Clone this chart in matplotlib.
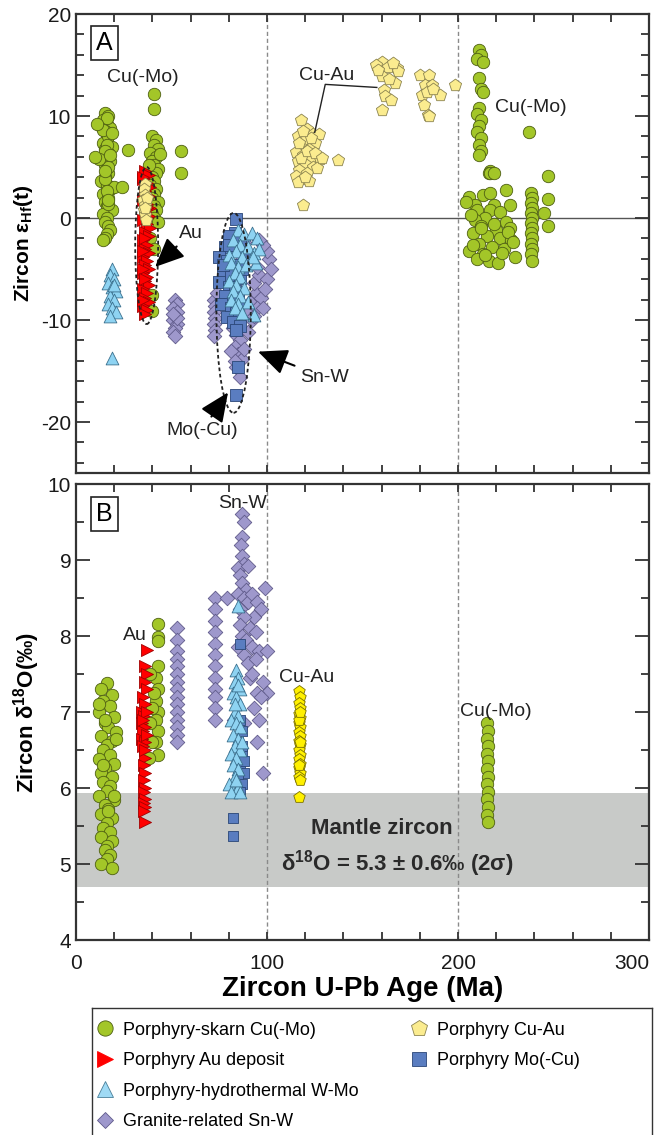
import matplotlib
matplotlib.use('Agg')
import matplotlib.pyplot as plt
from matplotlib.patches import Ellipse
from matplotlib.lines import Line2D
from matplotlib.ticker import MultipleLocator

plt.rcParams['font.family'] = ['Liberation Sans', 'DejaVu Sans']
plt.rcParams['mathtext.fontset'] = 'custom'
plt.rcParams['mathtext.rm'] = 'Liberation Sans'
plt.rcParams['mathtext.bf'] = 'Liberation Sans:bold'
plt.rcParams['mathtext.default'] = 'regular'
plt.rcParams['axes.unicode_minus'] = False

# ---------------- Panel A : zircon eHf(t) vs age ----------------
hf_cumo_age = [15,17,14,16,18,13,15,17,16,14, 19,15,17,16,18,14,15,16,17,15,
               13,16,18,14,17,15,16,19,14,16, 15,17,18,16,15,14,17,16,15,17,
               20,12,16,15,17,18,15,16,14,17, 10,11,19,24,27,
               41,41, 40,42,41,43,39,42,40,41,43,42, 40,41,39,42,41,40,43,41,42,40,
               41,43,39,41,55,55,40,40,44,38,
               211,212,210,213,211,212,213, 211,210,212,211,210,212,211,212,211, 217,216,237,
               206,213,217,225,227,219,209,210,217,222, 214,225,209,207,227,217,219,204,212,220,
               208,215,222,228,211,218,224,206,213,230, 210,216,221,226,212,219,208,214,223,229,
               238,239,238,239,238,239,238,239,238,239,238,239,238,239, 247,247,247,245]
hf_cumo_eps = [10.3,10.0,9.6,9.2,8.8,9.0,8.5,8.2,7.8,7.4, 7.0,6.8,6.4,6.0,5.6,5.8,5.2,4.8,4.4,4.0,
               3.6,3.2,2.8,2.4,2.0,1.6,1.2,0.8,0.4,0.0, -0.4,-0.8,-1.2,-1.6,-2.0,-2.2,8.0,7.2,6.6,5.0,
               3.0,5.8,9.8,3.8,1.4,6.2,4.6,2.6,8.6,1.8, 6.0,9.2,8.3,3.0,6.7,
               12.2,10.7, 8.0,7.6,7.2,6.8,6.4,6.0,5.6,5.2,4.8,4.4, 4.0,3.6,3.2,2.8,2.4,2.0,1.6,1.2,0.8,0.4,
               0.0,-0.4,-2.0,-3.0,6.6,4.4,-7.5,-9.1,6.3,5.2,
               16.5,16.0,15.6,15.3,13.7,12.6,12.4, 10.8,10.2,9.6,9.0,8.4,7.8,7.2,6.6,6.2, 4.6,4.4,8.4,
               2.1,2.3,2.5,2.7,1.3,1.3,1.3,0.8,0.8,0.6, 0.0,-0.4,-0.2,0.3,-1.0,4.4,4.4,1.6,-0.8,-1.2,
               -1.5,-1.8,-2.0,-2.2,-2.5,-2.8,-3.0,-3.2,-3.5,-3.8, -4.0,-4.2,-4.4,-1.4,-1.0,-0.6,-2.6,-3.6,-3.4,-2.4,
               2.5,2.0,1.5,1.0,0.5,0.0,-0.5,-1.0,-1.5,-2.0,-2.5,-3.0,-3.5,-4.2, 4.1,1.9,-0.8,0.5]

hf_au_age = [36,38,35,37,39,36,38,35,37,39, 36,38,35,37,39,36,38,35,37,36,
             38,35,37,36,38,35,37,36,38,35, 37,36,38,35,37,36,35,37,36,35,
             36,35,37,36,35]
hf_au_eps = [4.6,4.2,3.8,3.4,3.0,2.6,2.2,1.8,1.4,1.0, 0.6,0.2,-0.2,-0.6,-1.0,-1.4,-1.8,-2.2,-2.6,-3.0,
             -3.4,-3.8,-4.2,-4.6,-5.0,-5.4,-5.8,-6.2,-6.6,-7.0, -7.4,-7.8,-8.2,-8.6,-9.0,-9.4,4.0,1.0,-2.0,-5.0,
             -6.0,-3.2,0.0,2.0,-8.0]

hf_cuau_age = [36,35.5,36,35,36,35.5,36,36.5,37,36,
               118,121,124,127,116,120,125,118,122,115, 119,123,128,116,120,124,117,121,115,119,
               122,126,118,121,117,123,119,116,120,125, 129,119,137,
               160,163.5,168,168.7,160,167,161,162,165,160, 157,166,164,158,
               180,185,182.5,186.6,190.6,181.4,182,184.3,185,198.4, 184,187]
hf_cuau_eps = [3.3,2.8,2.3,1.8,1.3,0.8,0.3,-0.2,2.0,1.0,
               9.6,8.7,8.2,8.2,8.0,7.6,7.4,7.0,6.8,6.5, 6.2,6.0,5.8,5.6,5.3,5.0,4.7,4.4,4.1,3.8,
               3.6,4.9,5.9,6.6,7.4,7.8,8.5,3.5,4.0,6.4, 5.9,1.3,5.7,
               15.3,14.8,14.7,14.4,13.9,13.2,12.5,12.0,11.6,10.6, 15.0,15.2,13.6,14.5,
               14.0,14.0,13.0,13.0,12.1,12.1,11.1,10.1,10.0,13.0, 12.4,12.6]

hf_wmo_age = [19,18,20,17,19,21,18,20,17,19, 21,18,20,19,
              85,88,92,95,82,86,90,84,80,87, 93,81,85,89,83,86,80,84,88,82,
              86,81,85,90,83,87,94,96,93,92.7]
hf_wmo_eps = [-5.0,-5.6,-6.0,-6.4,-6.8,-7.2,-7.6,-8.0,-8.4,-8.8, -9.2,-9.6,-6.6,-13.7,
              -1.2,-1.6,-1.5,-2.0,-2.2,-2.6,-2.8,-3.2,-3.6,-3.8, -3.4,-4.4,-4.8,-4.6,-5.4,-5.8,-6.2,-6.6,-6.9,-7.2,
              -7.6,-8.0,-8.4,-8.2,-8.8,-9.3,-4.4,-3.0,-9.5,-3.8]

hf_mo_age = [84,83,80,86,78,82,88,75,79,84, 77,81,86,75,80,83,78,85,76,81,
             84,79,82,86,84,85,84,77,87,80]
hf_mo_eps = [-0.1,-1.5,-1.8,-2.2,-2.8,-3.0,-3.3,-3.8,-4.2,-4.6, -5.2,-5.6,-5.9,-6.3,-6.8,-7.2,-7.6,-8.0,-8.4,-8.8,
             -9.3,-9.7,-10.2,-10.6,-11.0,-14.6,-17.4,-4.6,-5.0,-2.6]

hf_snw_age = [52,53,51,53,52,51,53,52,51,52, 53,51, 72,73,72,73,72,73,72,74,
              80,82,84,86,83,85,87,84,86,88, 90,92,89,91,94,93,96,95,97,100,
              101,100,102,99,98,96,95,93,87,88, 81,83,98]
hf_snw_eps = [-8.0,-8.4,-8.8,-9.2,-9.6,-10.0,-10.4,-10.8,-11.2,-11.6, -9.8,-9.4, -8.0,-8.6,-9.2,-9.8,-10.4,-11.0,-11.6,-7.4,
              -9.5,-10.8,-11.5,-12.0,-12.6,-13.3,-13.8,-14.6,-15.6,-12.8, -11.2,-10.0,-9.0,-8.2,-7.4,-6.4,-5.6,-4.8,-7.8,-6.0,
              -4.0,-3.2,-5.0,-7.0,-2.6,-2.2,-8.8,-9.6,-4.0,-2.4, -13.0,-14.0,-8.8]

# ---------------- Panel B : zircon d18O vs age ----------------
o_cumo_age = [16,13,19,14,18,12,20,15,17,21, 13,19,16,14,18,12,20,15,13,19,
              14,18,16,12,20,15,17,13,19,16, 14,18,13,19,16,15,18,16,13,19,
              21,12,20,14,17,15,
              43,43,43,43,42,43,42,43,42,43, 42,43,38,40,39,41,39,40,
              215,215.5,215,215.5,215,215.5,215,215.5,215,215.5,215,215.5,215,215.5]
o_cumo_d18o = [7.38,7.3,7.22,7.15,7.08,7.0,6.93,6.86,6.8,6.74, 6.68,6.62,6.56,6.5,6.44,6.38,6.32,6.26,6.2,6.14,
               6.08,6.02,5.96,5.9,5.84,5.78,5.72,5.66,5.6,5.54, 5.48,5.42,5.36,5.3,5.24,5.18,5.12,5.06,5.0,4.95,
               6.65,7.1,5.9,6.3,5.7,6.9,
               8.16,7.99,7.93,7.6,7.45,7.3,7.15,7.0,6.9,6.75, 6.6,6.43,6.4,7.05,6.85,7.25,7.5,6.6,
               6.85,6.75,6.65,6.55,6.45,6.35,6.25,6.15,6.05,5.95,5.85,5.75,5.65,5.55]

o_au_age = [37,36,37,36,37,35,36,34.5,35.5,34.5, 36,35,34.5,36,35,36,35.5,36,35.5,36,
            35.5,36,35.5,36,35.5,36,37,37,35,36]
o_au_d18o = [7.82,7.6,7.5,7.4,7.3,7.2,7.1,7.0,6.95,6.85, 6.8,6.75,6.65,6.6,6.55,6.4,6.3,6.2,6.1,6.0,
             5.95,5.85,5.8,5.75,5.7,5.55,7.0,6.7,6.9,6.5]

o_snw_age = [53,53,53,53,53,53,53,53,53,53,53,53,53,53,53,
             73,73,73,73,73,73,73,73,73,73,73,73,
             87,88,87,86.5,87,88,85,90,86,87, 89,85,88,90,86,92,95,97,93,88,
             86,91,94,87,89,92,96,85,88,90, 94,99,100,98,100,95,97,91,88,95,
             98,79,82.5,93,96,92]
o_snw_d18o = [8.1,7.95,7.8,7.7,7.6,7.5,7.4,7.3,7.2,7.1,7.0,6.9,6.8,6.7,6.6,
              8.5,8.35,8.2,8.05,7.9,7.75,7.6,7.45,7.3,7.2,7.05,6.9,
              9.6,9.5,9.3,9.2,9.05,8.95,8.9,8.92,8.8,8.7, 8.6,8.55,8.5,8.45,8.35,8.55,8.45,8.35,8.25,8.25,
              8.15,8.1,8.05,8.0,7.95,7.85,7.8,7.85,7.75,7.65, 7.7,8.63,7.8,7.4,7.25,7.25,7.2,7.45,6.85,6.6,
              6.2,8.5,6.9,7.05,6.9,7.5]

o_wmo_age = [85,84,85,83,86,82,84,86,83,85, 81,84,86,82,85,83,86,81,84,82,
             85,83,80,85,81,86,84,87,83,85]
o_wmo_d18o = [8.4,7.55,7.45,7.4,7.3,7.25,7.2,7.1,7.0,6.95, 6.9,6.85,6.8,6.7,6.65,6.55,6.5,6.45,6.4,6.3,
              6.25,6.15,6.05,6.0,5.95,5.95,6.1,6.6,7.1,7.35]

o_mo_age = [86,86,87,85,87,86,88,85,87,86, 88,87,82,82]
o_mo_d18o = [7.9,6.9,6.75,6.6,6.45,6.3,6.2,6.15,6.05,5.95, 6.35,6.55,5.6,5.37]

o_cuau_age = [117,117.5,117,117.5,117,117.5,117,117.5,117,117.5,117,117.5,
              117,117.5,117,117.5,117,117.5,117,117.5,117,117.5,117,117.5, 117]
o_cuau_d18o = [7.28,7.2,7.12,7.05,6.98,6.92,6.86,6.8,6.74,6.68,6.62,6.56,
               6.5,6.44,6.38,6.32,6.26,6.2,6.14,6.1, 6.9,6.6,6.3,7.0, 5.88]

mantle_low, mantle_high = 4.7, 5.93

# ---------------- styles ----------------
green = ('#a3c628', '#4d5e12')
red = ('#ff0000', '#a00000')
lblue = ('#8ed3f2', '#3b708e')
purple = ('#9e98cc', '#5f5a8a')
yel_a = ('#fbec8f', '#8c8450')
yel_b = ('#fff000', '#7a7000')
blue = ('#5a7dc0', '#2a4677')
spine_c = '#333333'

fig = plt.figure(figsize=(6.58, 11.35), dpi=100)
axA = fig.add_axes([76/658, 1-473/1135, 573/658, 459/1135])
axB = fig.add_axes([76/658, 1-940/1135, 573/658, 456/1135])


def style(ax, ymin, ymax, ymaj, ymin_step):
    ax.set_xlim(0, 300)
    ax.set_ylim(ymin, ymax)
    ax.xaxis.set_major_locator(MultipleLocator(100))
    ax.xaxis.set_minor_locator(MultipleLocator(20))
    ax.yaxis.set_major_locator(MultipleLocator(ymaj))
    ax.yaxis.set_minor_locator(MultipleLocator(ymin_step))
    for s in ax.spines.values():
        s.set_linewidth(1.6)
        s.set_color(spine_c)
    ax.tick_params(which='both', direction='in', top=True, right=True,
                   color=spine_c, width=1.3, labelsize=15, labelcolor='#1a1a1a')
    ax.yaxis.set_tick_params(which='major', length=10)
    ax.yaxis.set_tick_params(which='minor', length=6)
    ax.xaxis.set_tick_params(which='both', length=6, pad=10)
    for xv in (100, 200):
        ax.axvline(xv, color='#8a8a8a', lw=1.0, ls=(0, (3, 2)), zorder=1)


def pts(ax, x, y, marker, col, s, z):
    ax.scatter(x, y, marker=marker, s=s, facecolor=col[0], edgecolor=col[1],
               linewidth=0.6, zorder=z)


# ---- Panel A ----
style(axA, -25, 20, 10, 2)
axA.tick_params(labelbottom=False)
axA.axhline(0, color='#555555', lw=1.0, zorder=1)
pts(axA, hf_cumo_age, hf_cumo_eps, 'o', green, 80, 3)
pts(axA, hf_au_age, hf_au_eps, '>', red, 75, 4)
pts(axA, hf_cuau_age, hf_cuau_eps, 'p', yel_a, 85, 5)
pts(axA, hf_snw_age, hf_snw_eps, 'D', purple, 55, 4)
pts(axA, hf_mo_age, hf_mo_eps, 's', blue, 65, 5)
pts(axA, hf_wmo_age, hf_wmo_eps, '^', lblue, 85, 6)

axA.add_patch(Ellipse((37, -2.7), 12, 15.4, fill=False, ec='#222222', lw=1.3,
                      ls=(0, (2, 1.5)), zorder=8))
axA.add_patch(Ellipse((82.5, -9.3), 18, 19.6, fill=False, ec='#222222', lw=1.3,
                      ls=(0, (2, 1.5)), zorder=8))

lab = dict(fontsize=14, color='#222222', zorder=10)
axA.text(35, 13.8, 'Cu(-Mo)', ha='center', va='center', **lab)
axA.text(131, 14.0, 'Cu-Au', ha='center', va='center', **lab)
axA.text(238, 10.8, 'Cu(-Mo)', ha='center', va='center', **lab)
axA.plot([125, 130.5, 157.5], [8.4, 13.1, 12.8], color='#222222', lw=1.0, zorder=9)

arr = dict(arrowstyle='-|>,head_length=0.9,head_width=0.4', color='black', lw=1.5,
           shrinkA=2, shrinkB=0, mutation_scale=20)
axA.annotate('Au', xy=(41.4, -4.8), xytext=(60, -1.5), ha='center', va='center',
             arrowprops=arr, **lab)
axA.annotate('Mo(-Cu)', xy=(79.6, -17.1), xytext=(66, -20.8), ha='center', va='center',
             arrowprops=arr, **lab)
axA.annotate('Sn-W', xy=(95.3, -13.1), xytext=(130, -15.6), ha='center', va='center',
             arrowprops=arr, **lab)
axA.text(15, 17.2, 'A', fontsize=18, ha='center', va='center', zorder=10,
         bbox=dict(boxstyle='square,pad=0.2', fc='white', ec='#222222', lw=1.2))
axA.set_ylabel('Zircon ε$_{Hf}$(t)', fontsize=15, fontweight='bold', labelpad=4)

# ---- Panel B ----
style(axB, 4, 10, 1, 0.5)
axB.axhspan(mantle_low, mantle_high, color='#c8cac8', lw=0, zorder=0)
pts(axB, o_cumo_age, o_cumo_d18o, 'o', green, 80, 3)
pts(axB, o_au_age, o_au_d18o, '>', red, 75, 4)
pts(axB, o_snw_age, o_snw_d18o, 'D', purple, 55, 4)
pts(axB, o_mo_age, o_mo_d18o, 's', blue, 60, 5)
pts(axB, o_wmo_age, o_wmo_d18o, '^', lblue, 85, 6)
pts(axB, o_cuau_age, o_cuau_d18o, 'p', yel_b, 75, 5)

axB.text(87, 9.75, 'Sn-W', ha='center', va='center', **lab)
axB.text(31, 8.0, 'Au', ha='center', va='center', **lab)
axB.text(120.5, 7.45, 'Cu-Au', ha='center', va='center', **lab)
axB.text(220, 7.0, 'Cu(-Mo)', ha='center', va='center', **lab)
axB.text(160, 5.47, 'Mantle zircon', ha='center', va='center', fontsize=16,
         fontweight='bold', color='#2a2a2a', zorder=10)
axB.text(168, 5.01, 'δ$^{18}$O = 5.3 ± 0.6‰ (2σ)', ha='center', va='center',
         fontsize=16, fontweight='bold', color='#2a2a2a', zorder=10)
axB.text(15, 9.6, 'B', fontsize=18, ha='center', va='center', zorder=10,
         bbox=dict(boxstyle='square,pad=0.2', fc='white', ec='#222222', lw=1.2))
axB.set_ylabel('Zircon δ$^{18}$O(‰)', fontsize=16, fontweight='bold', labelpad=4)
axB.set_xlabel('Zircon U-Pb Age (Ma)', fontsize=20, fontweight='bold', labelpad=2)
axB.set_xticks([0, 100, 200, 300])
axB.get_xticklabels()[-1].set_horizontalalignment('right')
axB.get_xticklabels()[-1].set_x(303)

# ---- legend box ----
axL = fig.add_axes([92/658, -0.005, 560/658, (1135-1008)/1135 + 0.005])
axL.set_xticks([])
axL.set_yticks([])
for s in axL.spines.values():
    s.set_linewidth(1.0)
    s.set_color(spine_c)


def h(marker, col, ms, label):
    return Line2D([], [], ls='none', marker=marker, ms=ms, mfc=col[0], mec=col[1],
                  mew=0.6, label=label)


left = [h('o', green, 11, 'Porphyry-skarn Cu(-Mo)'),
        h('>', ('#ff0000', '#ff0000'), 12, 'Porphyry Au deposit'),
        h('^', ('#9fdaf5', '#4a7f99'), 11, 'Porphyry-hydrothermal W-Mo'),
        h('D', purple, 8, 'Granite-related Sn-W')]
right = [h('p', yel_a, 12, 'Porphyry Cu-Au'),
         h('s', blue, 10, 'Porphyry Mo(-Cu)')]
leg1 = axL.legend(handles=left, loc='upper left', bbox_to_anchor=(-0.025, 1.02),
                  frameon=False, fontsize=13, handletextpad=0.4, labelspacing=0.75,
                  handlelength=1.2)
axL.add_artist(leg1)
axL.legend(handles=right, loc='upper left', bbox_to_anchor=(0.535, 1.02),
           frameon=False, fontsize=13, handletextpad=0.4, labelspacing=0.75,
           handlelength=1.2)

fig.savefig('out.png', dpi=100)
